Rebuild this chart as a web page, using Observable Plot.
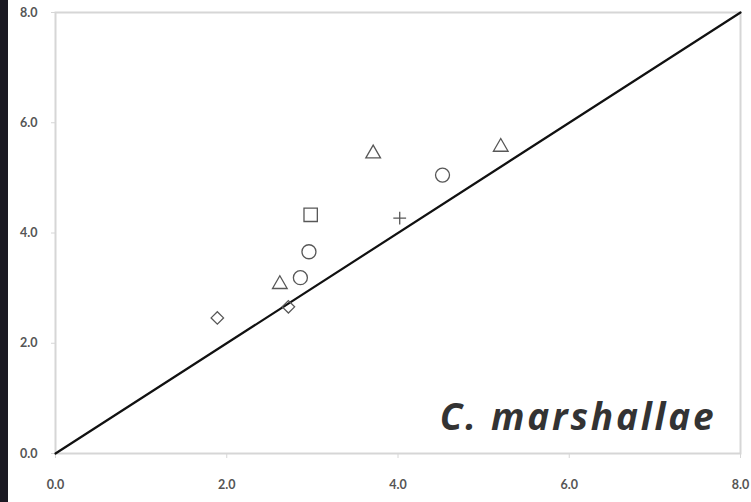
<!DOCTYPE html>
<html>
<head>
<meta charset="utf-8">
<script src="https://cdn.jsdelivr.net/npm/d3@7"></script>
<script src="https://cdn.jsdelivr.net/npm/@observablehq/plot@0.6"></script>
<style>
  html, body { margin: 0; padding: 0; background: #fff; }
  #wrap { position: relative; width: 751px; height: 502px; overflow: hidden; }
  #bar { position: absolute; left: 0; top: 0; width: 8px; height: 502px; background: #1b1a23; }
  #chart { position: absolute; left: 0; top: 0; }
</style>
</head>
<body>
<div id="wrap"><div id="chart"></div><div id="bar"></div></div>
<script>
const xVals = [3.71, 5.20, 4.52, 2.98, 4.02, 2.96, 2.86, 2.62, 2.72, 1.89];
const yVals = [5.44, 5.56, 5.05, 4.33, 4.27, 3.66, 3.19, 3.07, 2.66, 2.46];
const shapes = ["triangle", "triangle", "circle", "square", "plus", "circle", "circle", "triangle", "diamond", "diamond"];
const tickValues = [0, 2, 4, 6, 8];
const lineX = [0, 8];
const label = "C. marshallae";

const pts = xVals.map((x, i) => ({x, y: yVals[i], shape: shapes[i]}));
const diag = lineX.map(v => ({x: v, y: v}));

const symbolMap = {triangle: "triangle2", circle: "circle", square: "square2", plus: "plus", diamond: "diamond2"};
const sizeMap = {triangle: 7, circle: 7, square: 8.5, plus: 4.2, diamond: 5.6};

const dotMarks = Object.keys(symbolMap).map(s =>
  Plot.dot(pts.filter(d => d.shape === s), {
    x: "x", y: "y", symbol: symbolMap[s], r: sizeMap[s],
    stroke: "#575757", strokeWidth: 1.3, fill: "none"
  })
);

const chart = Plot.plot({
  width: 751,
  height: 502,
  marginLeft: 55,
  marginRight: 11,
  marginTop: 12,
  marginBottom: 49,
  style: {fontFamily: "Lato, 'Open Sans', sans-serif", fontSize: "12.5px", color: "#555", background: "transparent"},
  x: {domain: [0, 8], ticks: tickValues, tickFormat: d3.format(".1f"), label: null},
  y: {domain: [0, 8], ticks: tickValues, tickFormat: d3.format(".1f"), label: null},
  marks: [
    Plot.frame({stroke: "#d6d6d6", strokeWidth: 2}),
    Plot.axisX({ticks: tickValues, tickFormat: d3.format(".1f"), tickSize: 5, tickPadding: 22, stroke: "#d6d6d6", fill: "#555", fontWeight: "bold", label: null}),
    Plot.axisY({ticks: tickValues, tickFormat: d3.format(".1f"), tickSize: 4, tickPadding: 14, stroke: "#d6d6d6", fill: "#555", fontWeight: "bold", label: null}),
    Plot.line(diag, {x: "x", y: "y", stroke: "#111", strokeWidth: 2.2}),
    ...dotMarks,
    Plot.text([label], {
      frameAnchor: "bottom-right", text: d => d, textAnchor: "end", lineAnchor: "bottom",
      dx: -24, dy: -24, fontSize: 37, fontWeight: "bold", fontStyle: "italic", fill: "#333",
      fontFamily: "'Open Sans', Lato, sans-serif"
    })
  ]
});
chart.querySelectorAll("text").forEach(t => {
  if (t.textContent === label) t.style.letterSpacing = "2.8px";
});
document.getElementById("chart").appendChild(chart);
</script>
</body>
</html>
